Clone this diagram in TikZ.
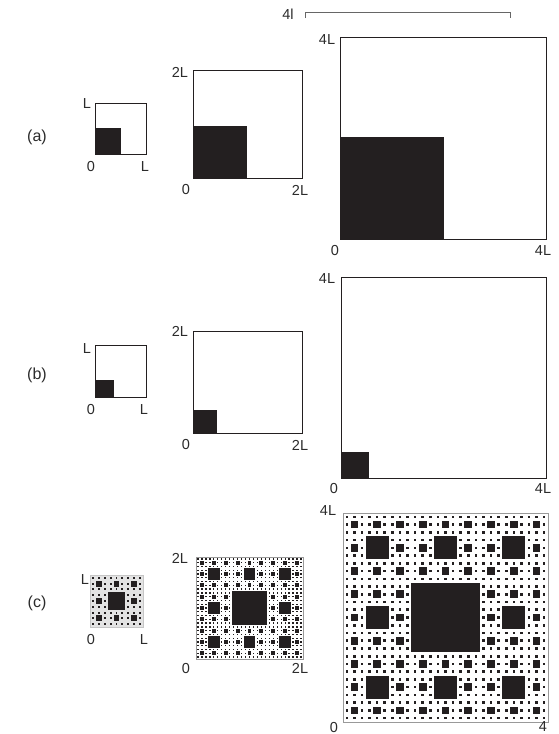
\documentclass[tikz,border=0pt]{standalone}
\usepackage{fontspec}
\setmainfont{Liberation Sans}
\definecolor{ink}{HTML}{231F20}
\definecolor{txt}{HTML}{2B2B2B}
\tikzset{
  lbl/.style={font=\fontsize{14.5}{16}\selectfont, text=txt, inner sep=0pt},
  rowlbl/.style={font=\fontsize{16}{18}\selectfont, text=txt, inner sep=0pt},
  frame/.style={draw=ink, line width=0.9pt},
  cframe/.style={draw=gray!80, line width=0.7pt},
  blk/.style={fill=ink}
}
\newcommand\mycarpet[5]{%
  \begingroup
  \pgfmathsetmacro\cX{#1}\pgfmathsetmacro\cY{#2}%
  \pgfmathsetmacro\cW{#3/3}\pgfmathsetmacro\cH{#4/3}%
  \pgfmathtruncatemacro\cD{#5-1}%
  \fill[ink] (\cX+\cW,\cY+\cH) rectangle ++(\cW,\cH);
  \ifnum\cD>0
    \foreach \i in {0,1,2}{\foreach \j in {0,1,2}{%
      \ifnum\i\j=11 \else
        \pgfmathsetmacro\nX{\cX+\i*\cW}\pgfmathsetmacro\nY{\cY+\j*\cH}%
        \edef\tmp{\noexpand\mycarpet{\nX}{\nY}{\cW}{\cH}{\cD}}\tmp
      \fi}}%
  \fi
  \endgroup}
\begin{document}
\begin{tikzpicture}[x=1pt,y=-1pt]
\useasboundingbox (0,0) rectangle (559,734);
% top bracket
\draw[gray!80!black, line width=0.7pt] (305,18) -- (305,12.5) -- (510,12.5) -- (510,18);
\node[lbl] (top) at (288,14) {4l};
% row labels
\node[rowlbl] (ra) at (37,137) {(a)};
\node[rowlbl] (rb) at (37,375) {(b)};
\node[rowlbl] (rc) at (37,603) {(c)};
% ---- row (a)
\fill[blk] (95,128) rectangle (121,154);
\draw[frame] (95,103) rectangle (146,154);
\fill[blk] (193,126) rectangle (247,178);
\draw[frame] (193,70) rectangle (302,178);
\fill[blk] (340,137) rectangle (444,239);
\draw[frame] (340,37) rectangle (546,239);
\node[lbl] (a1) at (87,104) {L};
\node[lbl] (a2) at (91,167) {0};
\node[lbl] (a3) at (145,167) {L};
\node[lbl] (a4) at (180,72) {2L};
\node[lbl] (a5) at (186,190) {0};
\node[lbl] (a6) at (300,190) {2L};
\node[lbl] (a7) at (327,40) {4L};
\node[lbl] (a8) at (335,251) {0};
\node[lbl] (a9) at (543,251) {4L};
% ---- row (b)
\fill[blk] (95,380) rectangle (114,397);
\draw[frame] (95,345) rectangle (146,397);
\fill[blk] (193,410) rectangle (217,433);
\draw[frame] (193,331) rectangle (302,433);
\fill[blk] (341,452) rectangle (369,478);
\draw[frame] (341,277) rectangle (546,478);
\node[lbl] (b1) at (87,349) {L};
\node[lbl] (b2) at (91,410) {0};
\node[lbl] (b3) at (144,410) {L};
\node[lbl] (b4) at (180,331) {2L};
\node[lbl] (b5) at (186,445) {0};
\node[lbl] (b6) at (300,445) {2L};
\node[lbl] (b7) at (327,279) {4L};
\node[lbl] (b8) at (334,489) {0};
\node[lbl] (b9) at (543,489) {4L};
% ---- row (c)
\fill[gray!22] (90,575) rectangle (143,627);
\mycarpet{90}{575}{53}{52}{3}
\draw[draw=gray!45, line width=0.5pt] (90,575) rectangle (143,627);
\mycarpet{196}{557}{107}{102}{4}
\draw[cframe] (196,557) rectangle (303,659);
\mycarpet{343}{513}{205}{209}{4}
\draw[cframe] (343,513) rectangle (548,722);
\node[lbl] (c1) at (85,580) {L};
\node[lbl] (c2) at (91,640) {0};
\node[lbl] (c3) at (144,640) {L};
\node[lbl] (c4) at (180,558) {2L};
\node[lbl] (c5) at (186,668) {0};
\node[lbl] (c6) at (300,668) {2L};
\node[lbl] (c7) at (328,511) {4L};
\node[lbl] (c8) at (334,727) {0};
\node[lbl] (c9) at (543,727) {4};
\end{tikzpicture}
\end{document}
